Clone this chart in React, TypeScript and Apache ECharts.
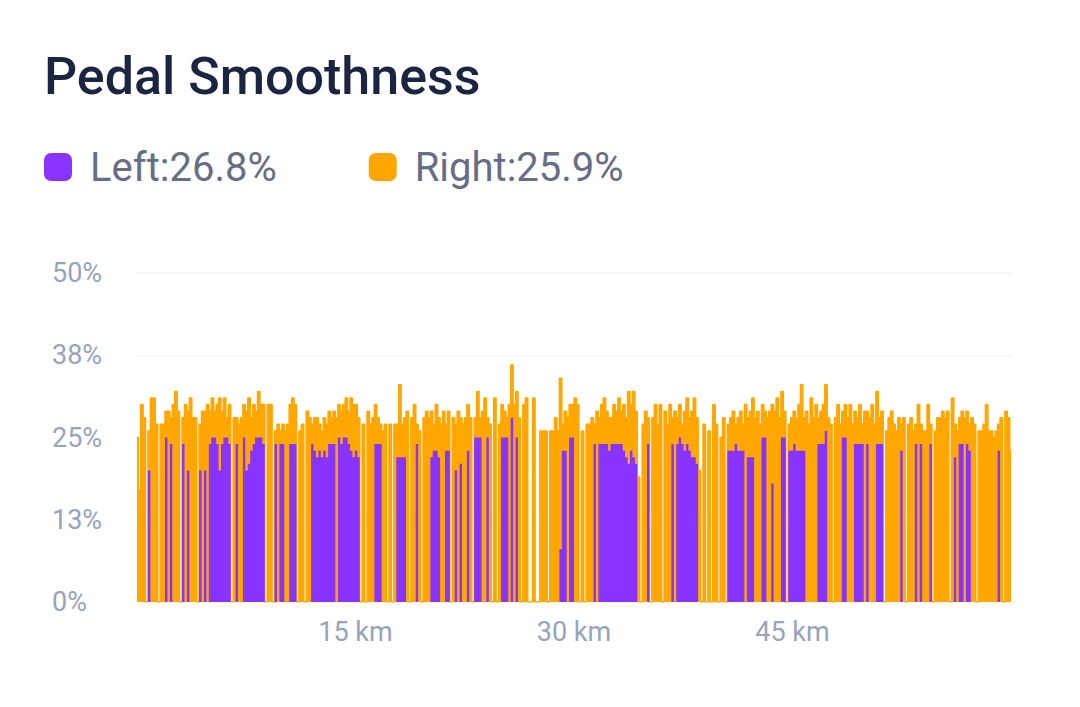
import React, { useEffect, useRef } from "react";
import * as echarts from "echarts";

const TITLE = "Pedal Smoothness";
const LEFT_NAME = "Left";
const RIGHT_NAME = "Right";
const leftAverage = 26.8;
const rightAverage = 25.9;
const totalKm = 60;
const xTickKm = 15;
const yMaxPct = 50;
const yTickPct = 12.5;

const PURPLE = "#8833ff";
const ORANGE = "#ffa600";
const FONT = "Roboto, 'Noto Sans', sans-serif";

// Right pedal smoothness (%), sampled evenly along the ride
const rightSmoothness = [
  25, 17, 30, 28, 0, 26, 31, 31, 27, 0, 27, 27, 29, 29, 28, 30, 32, 29, 0, 28,
  30, 29, 31, 28, 28, 0, 27, 29, 29, 30, 29, 31, 29, 30, 31, 29, 31, 28, 30, 0,
  28, 28, 27, 28, 30, 29, 31, 28, 30, 29, 32, 30, 30, 0, 30, 30, 0, 26, 27, 26,
  27, 26, 27, 30, 31, 30, 0, 26, 27, 0, 29, 28, 27, 28, 28, 27, 26, 28, 27, 29,
  28, 29, 28, 30, 29, 30, 31, 29, 31, 30, 30, 28, 0, 27, 0, 29, 27, 28, 30, 28,
  27, 26, 27, 0, 27, 0, 27, 27, 33, 27, 28, 29, 0, 28, 30, 27, 26, 0, 28, 29,
  28, 29, 27, 30, 28, 27, 29, 27, 29, 0, 28, 27, 29, 28, 27, 28, 30, 28, 0, 28,
  32, 28, 29, 31, 28, 27, 0, 31, 0, 27, 30, 29, 28, 30, 36, 30, 32, 28, 0, 30,
  31, 0, 0, 31, 0, 0, 26, 26, 26, 0, 26, 26, 28, 26, 34, 27, 29, 28, 30, 30,
  31, 30, 0, 26, 0, 27, 27, 28, 27, 29, 28, 30, 31, 29, 28, 28, 30, 29, 31, 29,
  30, 28, 32, 30, 32, 29, 19, 0, 27, 29, 28, 0, 28, 30, 27, 30, 0, 29, 27, 30,
  28, 29, 28, 30, 27, 29, 31, 28, 29, 31, 28, 20, 0, 27, 0, 26, 0, 30, 27, 0,
  25, 28, 0, 27, 28, 29, 27, 28, 29, 27, 30, 28, 29, 31, 28, 29, 27, 30, 29, 28,
  29, 30, 29, 31, 28, 32, 29, 0, 27, 28, 29, 28, 30, 33, 28, 29, 27, 31, 28, 30,
  28, 29, 30, 33, 28, 27, 0, 28, 30, 27, 29, 30, 28, 30, 27, 29, 28, 30, 27, 29,
  29, 28, 30, 27, 32, 28, 29, 0, 26, 28, 29, 27, 26, 28, 27, 28, 0, 27, 28, 26,
  27, 30, 27, 26, 26, 30, 27, 0, 26, 28, 28, 29, 28, 29, 0, 31, 27, 26, 28, 29,
  28, 29, 27, 28, 27, 0, 26, 26, 27, 30, 26, 26, 25, 26, 27, 28, 0, 29, 28, 23,
];

// Left pedal smoothness (%), same sampling
const leftSmoothness = [
  0, 0, 0, 0, 0, 20, 0, 0, 0, 0, 0, 0, 25, 0, 24, 0, 0, 0, 0, 24,
  0, 20, 0, 0, 0, 0, 20, 0, 20, 0, 24, 25, 25, 24, 20, 24, 25, 25, 24, 0,
  0, 24, 0, 0, 25, 20, 21, 23, 24, 25, 25, 25, 24, 0, 0, 0, 0, 24, 0, 24,
  24, 0, 0, 24, 24, 24, 0, 0, 0, 0, 0, 0, 24, 23, 22, 23, 22, 23, 22, 24,
  24, 24, 0, 25, 24, 25, 25, 24, 23, 22, 23, 22, 0, 0, 0, 0, 0, 0, 24, 24,
  24, 0, 0, 0, 0, 0, 0, 22, 22, 22, 22, 0, 0, 0, 0, 24, 0, 0, 0, 0,
  0, 22, 23, 23, 22, 0, 0, 23, 23, 0, 0, 20, 0, 21, 0, 0, 23, 0, 0, 25,
  25, 25, 0, 0, 25, 0, 0, 0, 0, 0, 25, 25, 25, 0, 28, 0, 25, 0, 0, 0,
  0, 0, 0, 0, 0, 0, 0, 0, 0, 0, 0, 0, 0, 0, 8, 23, 23, 0, 25, 25,
  0, 0, 0, 0, 0, 0, 0, 0, 24, 0, 24, 24, 24, 24, 23, 24, 24, 24, 24, 24,
  23, 22, 21, 23, 22, 21, 0, 0, 0, 0, 24, 0, 0, 0, 0, 0, 0, 0, 0, 0,
  24, 0, 24, 25, 24, 23, 24, 23, 22, 22, 21, 0, 0, 0, 0, 0, 0, 0, 0, 0,
  0, 0, 0, 23, 23, 23, 24, 23, 23, 23, 0, 22, 22, 22, 0, 0, 0, 25, 25, 0,
  0, 18, 0, 0, 0, 25, 25, 0, 23, 23, 24, 23, 23, 23, 23, 0, 0, 0, 0, 0,
  24, 24, 24, 26, 0, 0, 0, 0, 0, 0, 25, 25, 0, 0, 0, 24, 24, 24, 24, 0,
  24, 0, 0, 0, 24, 24, 24, 0, 0, 0, 0, 0, 0, 0, 23, 0, 0, 0, 0, 0,
  24, 0, 24, 0, 0, 0, 24, 0, 0, 0, 0, 0, 0, 0, 0, 0, 22, 0, 24, 24,
  0, 24, 23, 0, 0, 0, 0, 0, 0, 0, 0, 0, 0, 0, 23, 0, 0, 0, 0, 0,
];

// distance of each sample along the ride (km), evenly spaced sampling grid
const distanceKm = rightSmoothness.map(
  (_, i) => (i * totalKm) / (rightSmoothness.length - 1)
);

const legendLabels: Record<string, string> = {
  [LEFT_NAME]: `${LEFT_NAME}:${leftAverage}%`,
  [RIGHT_NAME]: `${RIGHT_NAME}:${rightAverage}%`,
};

export default function App() {
  const ref = useRef<HTMLDivElement>(null);

  useEffect(() => {
    if (!ref.current) return;
    const chart = echarts.init(ref.current, undefined, { renderer: "svg" });
    const leftData = leftSmoothness.map((v, i) => [distanceKm[i], v]);
    const rightData = rightSmoothness.map((v, i) => [distanceKm[i], v]);

    chart.setOption({
      animation: false,
      backgroundColor: "#ffffff",
      title: {
        text: TITLE,
        left: 39,
        top: 45,
        textStyle: {
          fontFamily: FONT,
          fontSize: 52,
          fontWeight: 500,
          color: "#1b2440",
        },
      },
      legend: {
        left: 39,
        top: 142,
        icon: "roundRect",
        itemWidth: 28,
        itemHeight: 28,
        itemGap: 92,
        data: [LEFT_NAME, RIGHT_NAME],
        formatter: (name: string) => legendLabels[name] ?? name,
        textStyle: {
          fontFamily: FONT,
          fontSize: 40,
          color: "#666d84",
          padding: [0, 0, 0, 13],
        },
      },
      grid: { left: 137, right: 69, top: 273, bottom: 105 },
      xAxis: {
        type: "value",
        min: 0,
        max: totalKm,
        interval: xTickKm,
        axisLine: { show: false },
        axisTick: { show: false },
        splitLine: { show: false },
        axisLabel: {
          showMinLabel: false,
          showMaxLabel: false,
          formatter: (v: number) => `${v} km`,
          fontFamily: FONT,
          fontSize: 27,
          color: "#97a3bb",
          margin: 16,
        },
      },
      yAxis: {
        type: "value",
        min: 0,
        max: yMaxPct,
        interval: yTickPct,
        axisLine: { show: false },
        axisTick: { show: false },
        splitLine: { lineStyle: { color: "#f2f4f8", width: 1.5 } },
        axisLabel: {
          formatter: (v: number) => `${Math.round(v)}%`,
          align: "left",
          margin: 85,
          fontFamily: FONT,
          fontSize: 27,
          color: "#97a3bb",
        },
      },
      series: [
        {
          name: LEFT_NAME,
          type: "line",
          step: "middle",
          data: leftData,
          symbol: "none",
          showSymbol: false,
          silent: true,
          z: 3,
          itemStyle: { color: PURPLE },
          lineStyle: { width: 0, color: PURPLE },
          areaStyle: { color: PURPLE, opacity: 1 },
        },
        {
          name: RIGHT_NAME,
          type: "line",
          step: "middle",
          data: rightData,
          symbol: "none",
          showSymbol: false,
          silent: true,
          z: 2,
          itemStyle: { color: ORANGE },
          lineStyle: { width: 1.5, color: ORANGE },
          areaStyle: { color: ORANGE, opacity: 1 },
        },
      ],
    });

    return () => chart.dispose();
  }, []);

  return (
    <div
      ref={ref}
      style={{ position: "fixed", left: 0, top: 0, width: 1080, height: 707 }}
    />
  );
}
